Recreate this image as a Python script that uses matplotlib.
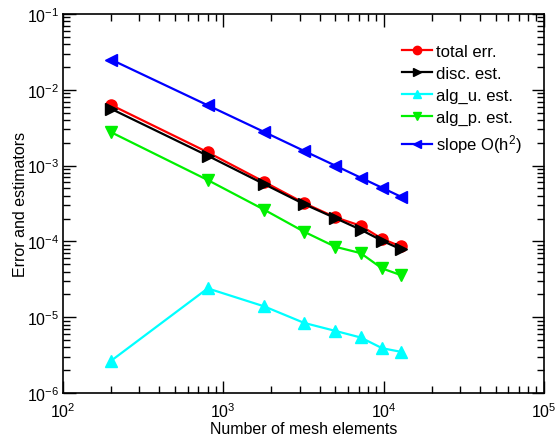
import matplotlib
matplotlib.use("Agg")
import matplotlib.pyplot as plt
from matplotlib.ticker import LogLocator, NullFormatter

plt.rcParams["font.family"] = ["Liberation Sans", "DejaVu Sans"]
plt.rcParams["mathtext.default"] = "regular"

n_elements = [200, 800, 1800, 3200, 5000, 7200, 9800, 12800]
total_err = [6.3e-3, 1.5e-3, 6.1e-4, 3.2e-4, 2.08e-4, 1.61e-4, 1.08e-4, 8.6e-5]
disc_est = [5.6e-3, 1.35e-3, 5.7e-4, 3.1e-4, 2.03e-4, 1.43e-4, 1.02e-4, 7.9e-5]
alg_u_est = [2.67e-6, 2.4e-5, 1.39e-5, 8.4e-6, 6.6e-6, 5.4e-6, 3.9e-6, 3.5e-6]
alg_p_est = [2.75e-3, 6.45e-4, 2.62e-4, 1.34e-4, 8.5e-5, 7.0e-5, 4.4e-5, 3.6e-5]
slope_h2 = [2.5e-2, 6.25e-3, 2.78e-3, 1.56e-3, 1.0e-3, 6.94e-4, 5.1e-4, 3.9e-4]

fig = plt.figure(figsize=(5.56, 4.39), dpi=100)
ax = fig.add_axes([0.1133, 0.1025, 0.8647, 0.8633])

series = [
    (total_err, "red", "o", "total err."),
    (disc_est, "black", ">", "disc. est."),
    (alg_u_est, "cyan", "^", "alg_u. est."),
    (alg_p_est, "#00f000", "v", "alg_p. est."),
    (slope_h2, "blue", "<", "slope O(h$^2$)"),
]
for vals, col, mk, lab in series:
    ax.plot(n_elements, vals, color=col, marker=mk, markersize=8,
            linewidth=1.6, label=lab)

ax.set_xscale("log")
ax.set_yscale("log")
ax.set_xlim(1e2, 1e5)
ax.set_ylim(1e-6, 1e-1)
ax.xaxis.set_major_locator(LogLocator(base=10, numticks=10))
ax.yaxis.set_major_locator(LogLocator(base=10, numticks=10))
ax.xaxis.set_minor_locator(LogLocator(base=10, subs=range(2, 10), numticks=20))
ax.yaxis.set_minor_locator(LogLocator(base=10, subs=range(2, 10), numticks=20))
ax.xaxis.set_minor_formatter(NullFormatter())
ax.yaxis.set_minor_formatter(NullFormatter())
ax.tick_params(which="both", direction="in", top=True, right=True,
               labelsize=11.5, width=1)
ax.tick_params(which="major", length=9)
ax.tick_params(axis="y", which="major", pad=3)
ax.tick_params(axis="x", which="major", pad=6)
ax.tick_params(which="minor", length=5)
for sp in ax.spines.values():
    sp.set_linewidth(1.2)

ax.set_xlabel("Number of mesh elements", fontsize=11.5, labelpad=1)
ax.set_ylabel("Error and estimators", fontsize=11.5)
ax.yaxis.set_label_coords(-0.072, 0.5)

ax.legend(loc="upper right", bbox_to_anchor=(0.985, 0.96), frameon=False,
          fontsize=12, handlelength=1.8, handletextpad=0.25,
          labelspacing=0.42, markerscale=0.75)

fig.savefig("out.png", dpi=100)
